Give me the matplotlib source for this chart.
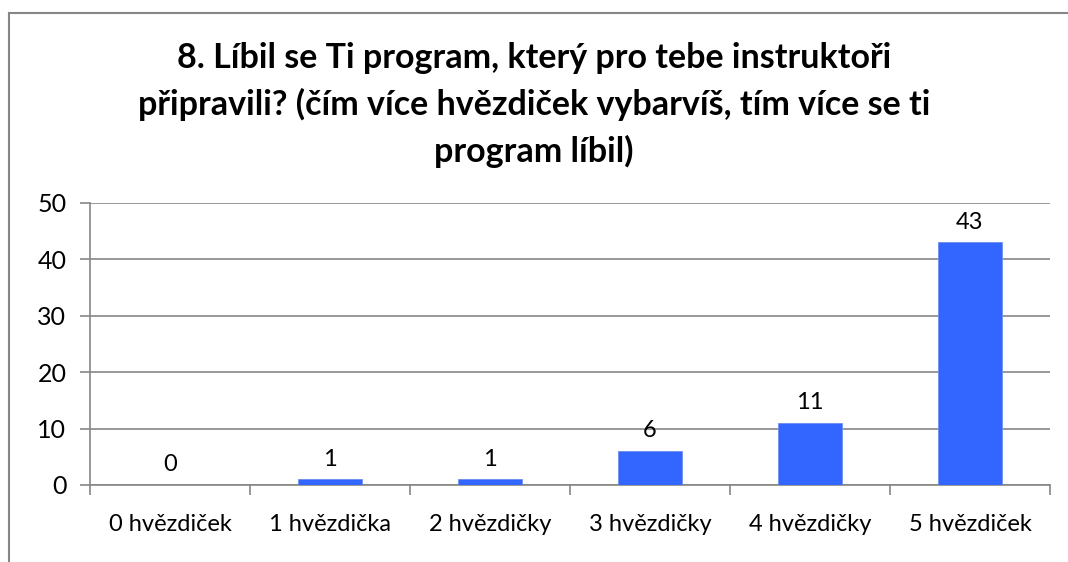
import matplotlib
matplotlib.use("Agg")
import matplotlib.pyplot as plt
from matplotlib.lines import Line2D

categories = ["0 hvězdiček", "1 hvězdička", "2 hvězdičky", "3 hvězdičky", "4 hvězdičky", "5 hvězdiček"]
values = [0, 1, 1, 6, 11, 43]
yticks = [0, 10, 20, 30, 40, 50]
title = "8. Líbil se Ti program, který pro tebe instruktoři\npřipravili? (čím více hvězdiček vybarvíš, tím více se ti\nprogram líbil)"

plt.rcParams['font.family'] = ['Lato', 'DejaVu Sans']

fig = plt.figure(figsize=(10.68, 5.62), dpi=100)
ax = fig.add_axes([90/1068, 1-485/562, 960/1068, 282/562])

x = list(range(len(categories)))
ax.bar(x, values, width=0.4, color='#3366FF', edgecolor='#6f8ff0', linewidth=0.6, zorder=3)
for xi, v in zip(x, values):
    ax.annotate(str(v), (xi, v), xytext=(0, 7), textcoords='offset points',
                ha='center', va='bottom', fontsize=17, color='black')

ax.set_xlim(-0.5, len(categories)-0.5)
ax.set_ylim(0, 50)
ax.set_yticks(yticks)
ax.yaxis.grid(True, color='#868686', linewidth=1.2, zorder=0)
ax.set_axisbelow(True)
ax.set_xticks([i - 0.5 for i in range(len(categories)+1)], minor=False)
ax.set_xticklabels([''] * (len(categories)+1))
ax.set_xticks(x, minor=True)
ax.set_xticklabels(categories, minor=True, fontsize=17)
ax.tick_params(axis='x', which='major', length=7, color='#868686', width=1.2, direction='out')
ax.tick_params(axis='x', which='minor', length=0, pad=21)
ax.tick_params(axis='y', length=7, color='#868686', width=1.2, labelsize=18, pad=10)
for s in ['top', 'right']:
    ax.spines[s].set_visible(False)
for s in ['left', 'bottom']:
    ax.spines[s].set_color('#868686')
    ax.spines[s].set_linewidth(1.2)

fig.text(0.5, 1-105/562, title, ha='center', va='center', fontsize=24.5, fontweight='bold',
         linespacing=1.5)

fig.add_artist(Line2D([8.5/1068, 8.5/1068], [0, 1-13/562], color='#868686', linewidth=1.5, transform=fig.transFigure))
fig.add_artist(Line2D([8.5/1068, 1], [1-13/562, 1-13/562], color='#868686', linewidth=1.5, transform=fig.transFigure))

fig.savefig("out.png", dpi=100)
